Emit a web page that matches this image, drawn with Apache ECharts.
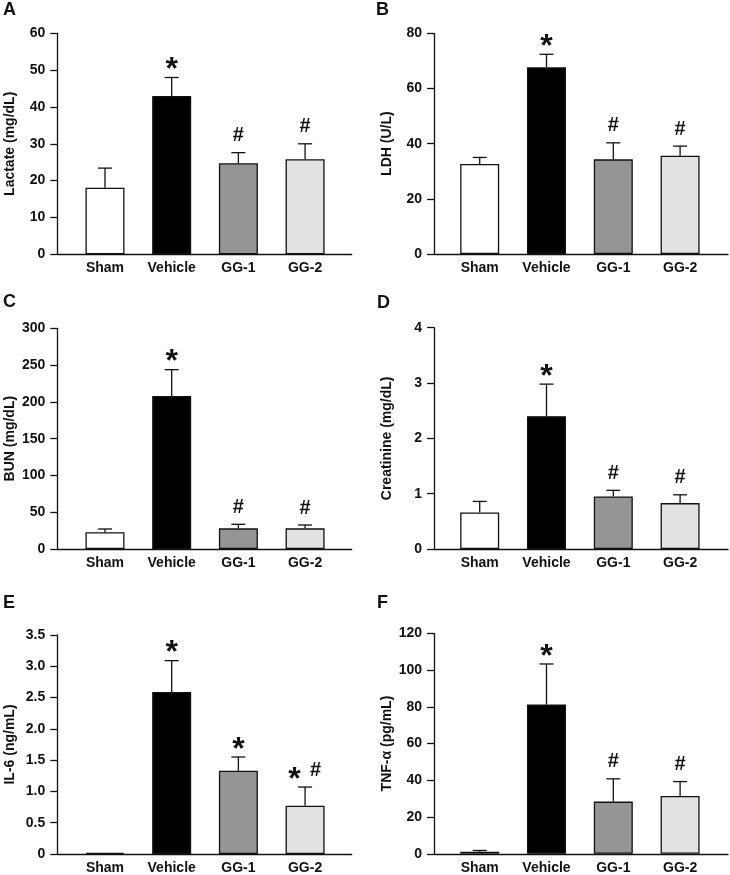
<!DOCTYPE html>
<html>
<head>
<meta charset="utf-8">
<script src="https://cdn.jsdelivr.net/npm/echarts@6/dist/echarts.min.js"></script>
<style>
html,body{margin:0;padding:0;background:#fff;}
#chart{width:730px;height:875px;}
</style>
</head>
<body>
<div id="chart"></div>
<script>
// ---- data ----
const categories = ['Sham', 'Vehicle', 'GG-1', 'GG-2'];
const panelLetters = ['A', 'B', 'C', 'D', 'E', 'F'];

const lactate = [18.1, 43.0, 24.7, 25.8];
const lactateErr = [5.3, 5.0, 2.9, 4.2];
const lactateMarks = ['', '*', '#', '#'];

const ldh = [32.6, 67.7, 34.3, 35.6];
const ldhErr = [2.4, 4.7, 6.0, 3.5];
const ldhMarks = ['', '*', '#', '#'];

const bun = [22.7, 208, 28.1, 28.1];
const bunErr = [4.5, 35.8, 5.5, 4.5];
const bunMarks = ['', '*', '#', '#'];

const creatinine = [0.66, 2.40, 0.95, 0.83];
const creatinineErr = [0.20, 0.58, 0.11, 0.15];
const creatinineMarks = ['', '*', '#', '#'];

const il6 = [0.02, 2.59, 1.33, 0.77];
const il6Err = [0, 0.50, 0.22, 0.30];
const il6Marks = ['', '*', '*', '* #'];

const tnf = [1.1, 81.2, 28.4, 31.5];
const tnfErr = [0.7, 22.1, 12.4, 7.8];
const tnfMarks = ['', '*', '#', '#'];

const yNames = ['Lactate (mg/dL)', 'LDH (U/L)', 'BUN (mg/dL)', 'Creatinine (mg/dL)', 'IL-6 (ng/mL)', 'TNF-α (pg/mL)'];
const yMax = [60, 80, 300, 4, 3.5, 120];
const yStep = [10, 20, 50, 1, 0.5, 20];

// ---- layout / style ----
const FONT = '"Liberation Sans", Arial, Helvetica, sans-serif';
const INK = '#111';
const barColors = ['#ffffff', '#000000', '#959595', '#e2e2e2'];

const values = [lactate, ldh, bun, creatinine, il6, tnf];
const errs = [lactateErr, ldhErr, bunErr, creatinineErr, il6Err, tnfErr];
const marks = [lactateMarks, ldhMarks, bunMarks, creatinineMarks, il6Marks, tnfMarks];

const grids = [
  {left: 57.3, top: 33.3, width: 294.4, height: 221},
  {left: 434, top: 33.3, width: 294, height: 220.7},
  {left: 57.3, top: 328.3, width: 294.4, height: 220.7},
  {left: 434, top: 327.7, width: 294, height: 221.3},
  {left: 57.3, top: 635, width: 294.4, height: 220},
  {left: 434, top: 633.3, width: 294, height: 220.5}
];
const xRange = [[-0.715, 3.699], [-0.684, 3.717]];
const letterPos = [[3, 1], [376, 1], [3, 293], [377, 294], [3, 594], [377, 594]];

const option = {
  backgroundColor: '#fff',
  animation: false,
  title: [],
  grid: [],
  xAxis: [],
  yAxis: [],
  series: []
};

for (let p = 0; p < 6; p++) {
  const col = p % 2;
  option.title.push({
    text: panelLetters[p], left: letterPos[p][0], top: letterPos[p][1], padding: 0,
    textStyle: {fontFamily: FONT, fontWeight: 'bold', fontSize: 18, color: INK}
  });
  option.grid.push(Object.assign({containLabel: false}, grids[p]));
  option.xAxis.push({
    type: 'value', gridIndex: p, min: xRange[col][0], max: xRange[col][1],
    axisLine: {show: true, onZero: false, lineStyle: {color: INK, width: 1.3}},
    axisTick: {show: false},
    splitLine: {show: false},
    axisLabel: {
      customValues: [0, 1, 2, 3],
      formatter: v => categories[Math.round(v)] || '',
      margin: 7, color: INK, fontFamily: FONT, fontWeight: 'bold', fontSize: 14
    }
  });
  const step = yStep[p];
  option.yAxis.push({
    type: 'value', gridIndex: p, min: 0, max: yMax[p], interval: step,
    name: yNames[p], nameLocation: 'middle', nameGap: 40, nameRotate: 90,
    nameTextStyle: {fontFamily: FONT, fontWeight: 'bold', fontSize: 14, color: INK},
    axisLine: {show: true, onZero: false, lineStyle: {color: INK, width: 1.3}},
    axisTick: {show: true, inside: false, length: 7, lineStyle: {color: INK, width: 1.3}},
    splitLine: {show: false},
    axisLabel: {
      margin: 12, color: INK, fontFamily: FONT, fontWeight: 'bold', fontSize: 14,
      formatter: v => (step < 1 && v !== 0) ? v.toFixed(1) : String(v)
    }
  });

  const vals = values[p], es = errs[p], mk = marks[p];
  option.series.push({
    type: 'bar', xAxisIndex: p, yAxisIndex: p, barWidth: 39, z: 2,
    data: vals.map((v, i) => ({
      value: [i, v],
      itemStyle: {color: barColors[i], borderColor: INK, borderWidth: 1.3}
    }))
  });
  option.series.push({
    type: 'custom', xAxisIndex: p, yAxisIndex: p, z: 3, clip: false,
    data: vals.map((v, i) => [i, v, es[i]]),
    encode: {x: 0, y: 1},
    renderItem: (params, api) => {
      const x = api.value(0), v = api.value(1), e = api.value(2);
      if (!(e > 0)) return null;
      const a = api.coord([x, v]), b = api.coord([x, v + e]);
      const st = {stroke: INK, lineWidth: 1.3};
      return {type: 'group', children: [
        {type: 'line', shape: {x1: a[0], y1: a[1], x2: b[0], y2: b[1]}, style: st},
        {type: 'line', shape: {x1: b[0] - 7, y1: b[1], x2: b[0] + 7, y2: b[1]}, style: st}
      ]};
    }
  });
  option.series.push({
    type: 'custom', xAxisIndex: p, yAxisIndex: p, z: 4, clip: false,
    data: vals.map((v, i) => [i, v + es[i]]),
    encode: {x: 0, y: 1},
    renderItem: (params, api) => {
      const s = mk[params.dataIndex];
      if (!s) return null;
      const c = api.coord([api.value(0), api.value(1)]);
      const parts = s.split(' ');
      const spacing = 21;
      const children = parts.map((ch, k) => {
        const dx = (k - (parts.length - 1) / 2) * spacing;
        const isStar = ch === '*';
        return {
          type: 'text',
          style: {
            text: ch, x: c[0] + dx, y: isStar ? c[1] - 7 : c[1] - 17,
            textAlign: 'center', textVerticalAlign: 'middle',
            fill: INK, fontFamily: FONT, fontWeight: 'bold', fontSize: isStar ? 32 : 20
          }
        };
      });
      return {type: 'group', children};
    }
  });
}

const chart = echarts.init(document.getElementById('chart'), null, {renderer: 'canvas'});
chart.setOption(option);
</script>
</body>
</html>
